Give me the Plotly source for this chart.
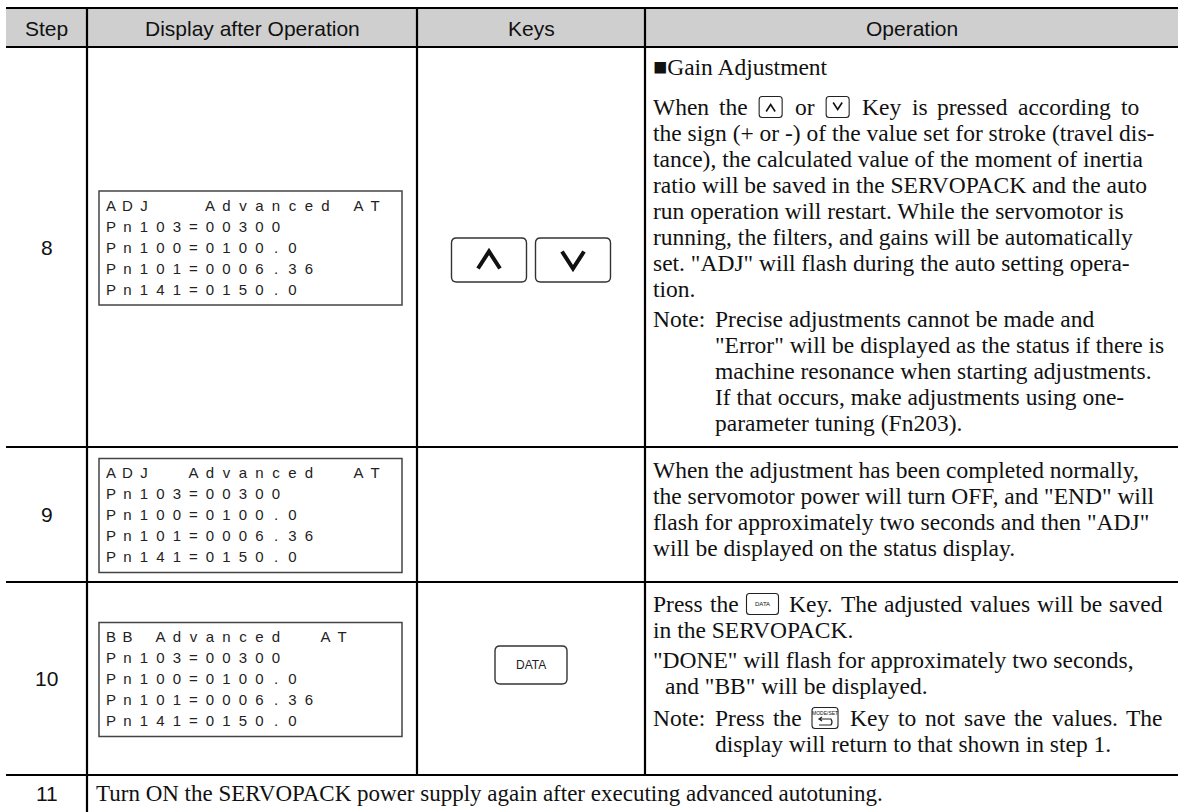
import plotly.graph_objects as go

# ---------------- data ----------------
header_labels = ["Step", "Display after Operation", "Keys", "Operation"]
step_labels = ["8", "9", "10", "11"]

display_8 = ["ADJ   Advanced AT", "Pn103=00300", "Pn100=0100.0", "Pn101=0006.36", "Pn141=0150.0"]
display_9 = ["ADJ  Advanced  AT", "Pn103=00300", "Pn100=0100.0", "Pn101=0006.36", "Pn141=0150.0"]
display_10 = ["BB Advanced  AT", "Pn103=00300", "Pn100=0100.0", "Pn101=0006.36", "Pn141=0150.0"]

keys_8 = ["UP", "DOWN"]
keys_10 = ["DATA"]

op_8_heading = ["■Gain Adjustment"]
op_8_body = [
    "When the {UP} or {DOWN} Key is pressed according to",
    "the sign (+ or -) of the value set for stroke (travel dis-",
    "tance), the calculated value of the moment of inertia",
    "ratio will be saved in the SERVOPACK and the auto",
    "run operation will restart. While the servomotor is",
    "running, the filters, and gains will be automatically",
    'set. "ADJ" will flash during the auto setting opera-',
    "tion.",
]
op_8_note = [
    "Precise adjustments cannot be made and",
    '"Error" will be displayed as the status if there is',
    "machine resonance when starting adjustments.",
    "If that occurs, make adjustments using one-",
    "parameter tuning (Fn203).",
]
op_9_body = [
    "When the adjustment has been completed normally,",
    'the servomotor power will turn OFF, and "END" will',
    'flash for approximately two seconds and then "ADJ"',
    "will be displayed on the status display.",
]
op_10_body = [
    "Press the {DATA} Key. The adjusted values will be saved",
    "in the SERVOPACK.",
]
op_10_body2 = [
    '"DONE" will flash for approximately two seconds,',
    'and "BB" will be displayed.',
]
op_10_note = [
    "Press the {MODESET} Key to not save the values. The",
    "display will return to that shown in step 1.",
]
op_11 = ["Turn ON the SERVOPACK power supply again after executing advanced autotuning."]
note_label = "Note:"

# ---------------- layout constants ----------------
W, H = 1178, 812
X_LEFT, X_STEP, X_DISP, X_KEYS, X_RIGHT = 6, 87, 417, 645, 1178
Y_TOP, Y_HEAD, Y_R8, Y_R9, Y_R10, Y_BOT = 8, 47, 447, 582, 775, 812

SERIF = "Liberation Serif, Times New Roman, serif"
SANS = "Liberation Sans, Arial, sans-serif"
OP_SIZE = 23.5
PITCH = 26
TXT = "#111111"
ICON_GAP = 8

TIMES_W = {' ': 250, '!': 333, '"': 408, '#': 500, '$': 500, '%': 833, '&': 778, "'": 180,
           '(': 333, ')': 333, '*': 500, '+': 564, ',': 250, '-': 333, '.': 250, '/': 278,
           ':': 278, ';': 278, '<': 564, '=': 564, '>': 564, '?': 444, '@': 921,
           'A': 722, 'B': 667, 'C': 667, 'D': 722, 'E': 611, 'F': 556, 'G': 722, 'H': 722,
           'I': 333, 'J': 389, 'K': 722, 'L': 611, 'M': 889, 'N': 722, 'O': 722, 'P': 556,
           'Q': 722, 'R': 667, 'S': 556, 'T': 611, 'U': 722, 'V': 722, 'W': 944, 'X': 722,
           'Y': 722, 'Z': 611, 'a': 444, 'b': 500, 'c': 444, 'd': 500, 'e': 444, 'f': 333,
           'g': 500, 'h': 500, 'i': 278, 'j': 278, 'k': 500, 'l': 278, 'm': 778, 'n': 500,
           'o': 500, 'p': 500, 'q': 500, 'r': 333, 's': 389, 't': 278, 'u': 500, 'v': 500,
           'w': 722, 'x': 500, 'y': 500, 'z': 444}


def tw(s, size=OP_SIZE):
    return sum(TIMES_W.get(c, 500) for c in s) / 1000.0 * size


fig = go.Figure()
shapes = []
annos = []


def line(x0, y0, x1, y1, w=2.2, c="#000"):
    shapes.append(dict(type="line", x0=x0, y0=y0, x1=x1, y1=y1, xref="x", yref="y",
                       line=dict(color=c, width=w)))


def rrect(x0, y0, x1, y1, r, w=1.4, c="#333"):
    p = (f"M{x0+r},{y0} L{x1-r},{y0} Q{x1},{y0} {x1},{y0+r} L{x1},{y1-r} Q{x1},{y1} {x1-r},{y1} "
         f"L{x0+r},{y1} Q{x0},{y1} {x0},{y1-r} L{x0},{y0+r} Q{x0},{y0} {x0+r},{y0} Z")
    shapes.append(dict(type="path", path=p, xref="x", yref="y", line=dict(color=c, width=w)))


def chevron(cx, cy, wdt, hgt, up=True, w=2.0, c="#111"):
    if up:
        p = f"M{cx-wdt/2},{cy+hgt/2} L{cx},{cy-hgt/2} L{cx+wdt/2},{cy+hgt/2}"
    else:
        p = f"M{cx-wdt/2},{cy-hgt/2} L{cx},{cy+hgt/2} L{cx+wdt/2},{cy-hgt/2}"
    shapes.append(dict(type="path", path=p, xref="x", yref="y", line=dict(color=c, width=w)))


def text(x, y, s, size=OP_SIZE, family=SERIF, anchor="left", color=TXT):
    annos.append(dict(x=x, y=y, xref="x", yref="y", text=s, showarrow=False,
                      xanchor=anchor, yanchor="middle", borderpad=0,
                      font=dict(family=family, size=size, color=color)))


ICON_W = {"UP": 23, "DOWN": 23, "DATA": 32, "MODESET": 26}


def icon(kind, x, y):
    w = ICON_W[kind]
    h = 21
    rrect(x, y - h / 2, x + w, y + h / 2, 3, w=1.1, c="#222")
    cx = x + w / 2
    if kind == "UP":
        chevron(cx, y + 1, 9, 7, up=True, w=1.6)
    elif kind == "DOWN":
        chevron(cx, y - 1, 9, 7, up=False, w=1.6)
    elif kind == "DATA":
        text(cx, y, "DATA", size=6, family=SANS, anchor="center")
    else:
        text(cx, y - 5, "MODE/SET", size=5, family=SANS, anchor="center")
        p = (f"M{cx-6},{y+1} L{cx+6},{y+1} Q{cx+8},{y+4} {cx+6},{y+7} L{cx-6},{y+7} "
             f"M{cx-3},{y-1} L{cx-6},{y+1} L{cx-3},{y+3}")
        shapes.append(dict(type="path", path=p, xref="x", yref="y", line=dict(color="#222", width=1.2)))


def set_line(x, y, s, target=None, size=OP_SIZE):
    """Plain lines are one text run; lines with key icons are set word by word
    (icon gaps slightly wider) and justified to `target` when given."""
    if "{" not in s:
        text(x, y, s, size=size)
        return
    items = []
    for wd in s.split(" "):
        if not wd:
            continue
        if wd.startswith("{"):
            items.append(("i", wd[1:-1], ICON_W[wd[1:-1]]))
        else:
            items.append(("t", wd, tw(wd)))
    gaps = []
    for a, b in zip(items[:-1], items[1:]):
        gaps.append(ICON_GAP if (a[0] == "i" or b[0] == "i") else tw(" "))
    if target is not None and gaps:
        extra = (target - x - sum(w for _, _, w in items) - sum(gaps)) / len(gaps)
        gaps = [g + extra for g in gaps]
    gaps.append(0)
    for (kind, val, wdt), g in zip(items, gaps):
        if kind == "t":
            text(x, y, val)
        else:
            icon(val, x, y)
        x += wdt + g


def paragraph(x, y0, lines_, first_x=None, targets=None):
    for i, s in enumerate(lines_):
        xx = x if (i > 0 or first_x is None) else first_x
        tg = targets[i] if targets else None
        set_line(xx, y0 + i * PITCH, s, target=tg)


# ---------------- table frame ----------------
shapes.append(dict(type="rect", x0=X_LEFT, x1=X_RIGHT, y0=Y_TOP, y1=Y_HEAD, xref="x", yref="y",
                   fillcolor="#cfcfcf", line=dict(width=0), layer="below"))
for yy in (Y_TOP, Y_HEAD, Y_R8, Y_R9, Y_R10):
    line(X_LEFT, yy, X_RIGHT, yy)
line(X_STEP, Y_TOP, X_STEP, Y_BOT)
line(X_DISP, Y_TOP, X_DISP, Y_R10)
line(X_KEYS, Y_TOP, X_KEYS, Y_R10)

# header
hy = (Y_TOP + Y_HEAD) / 2 + 1
for lab, (a, b) in zip(header_labels, [(X_LEFT, X_STEP), (X_STEP, X_DISP), (X_DISP, X_KEYS), (X_KEYS, X_RIGHT)]):
    text((a + b) / 2, hy, lab, size=21, family=SANS, anchor="center")

# step numbers
row_bounds = [(Y_HEAD, Y_R8), (Y_R8, Y_R9), (Y_R9, Y_R10)]
for lab, (a, b) in zip(step_labels[:3], row_bounds):
    text((X_LEFT + X_STEP) / 2, (a + b) / 2, lab, size=21, family=SANS, anchor="center")
text((X_LEFT + X_STEP) / 2, 793, step_labels[3], size=21, family=SANS, anchor="center")

# display boxes (character grid like an LCD)
BOX_X0, BOX_X1, BOX_H = 99, 402, 114
CH0, CHP, LNP = 111, 16.5, 21
for lines_, (a, b) in zip([display_8, display_9, display_10], row_bounds):
    top = (a + b) / 2 - BOX_H / 2 + 1
    shapes.append(dict(type="rect", x0=BOX_X0, x1=BOX_X1, y0=top, y1=top + BOX_H, xref="x", yref="y",
                       line=dict(color="#444", width=1.5)))
    xs, ys, ts = [], [], []
    for li, s in enumerate(lines_):
        for ci, chh in enumerate(s):
            if chh != " ":
                xs.append(CH0 + ci * CHP)
                ys.append(top + 16 + li * LNP)
                ts.append(chh)
    fig.add_trace(go.Scatter(x=xs, y=ys, text=ts, mode="text", hoverinfo="skip",
                             textposition="middle center",
                             textfont=dict(family=SANS, size=15, color="#222")))

# big keys
kc = (X_DISP + X_KEYS) / 2
bw, gap_ = 75, 9
for k, x0 in zip(keys_8, [kc - gap_ / 2 - bw, kc + gap_ / 2]):
    rrect(x0, 238, x0 + bw, 282, 5, w=1.4, c="#333")
    chevron(x0 + bw / 2, 260, 22, 17, up=(k == "UP"), w=4.0, c="#111")
for k in keys_10:
    rrect(kc - 36, 646, kc + 36, 684, 5, w=1.4, c="#333")
    text(kc, 665, k, size=12, family=SANS, anchor="center", color="#222")

# operation texts
OX = 652
NX = 714
text(OX, 67, op_8_heading[0])
paragraph(OX, 107, op_8_body, targets=[1138] + [None] * 7)
text(OX, 319, note_label)
paragraph(NX, 319, op_8_note)

paragraph(OX, 470, op_9_body)

paragraph(OX, 604, op_10_body, targets=[1162, None])
paragraph(OX + 12, 660, op_10_body2, first_x=OX)
text(OX, 718, note_label)
paragraph(NX, 718, op_10_note, targets=[1162, None])

set_line(95, 793, op_11[0], size=23)

fig.update_layout(
    width=W, height=H, margin=dict(l=0, r=0, t=0, b=0),
    paper_bgcolor="white", plot_bgcolor="white", showlegend=False,
    xaxis=dict(range=[0, W], visible=False, fixedrange=True),
    yaxis=dict(range=[H, 0], visible=False, fixedrange=True),
    shapes=shapes, annotations=annos,
)

fig.write_html("out.html", config={"displayModeBar": False},
               post_script="document.body.style.margin='0';document.body.style.overflow='hidden';")
